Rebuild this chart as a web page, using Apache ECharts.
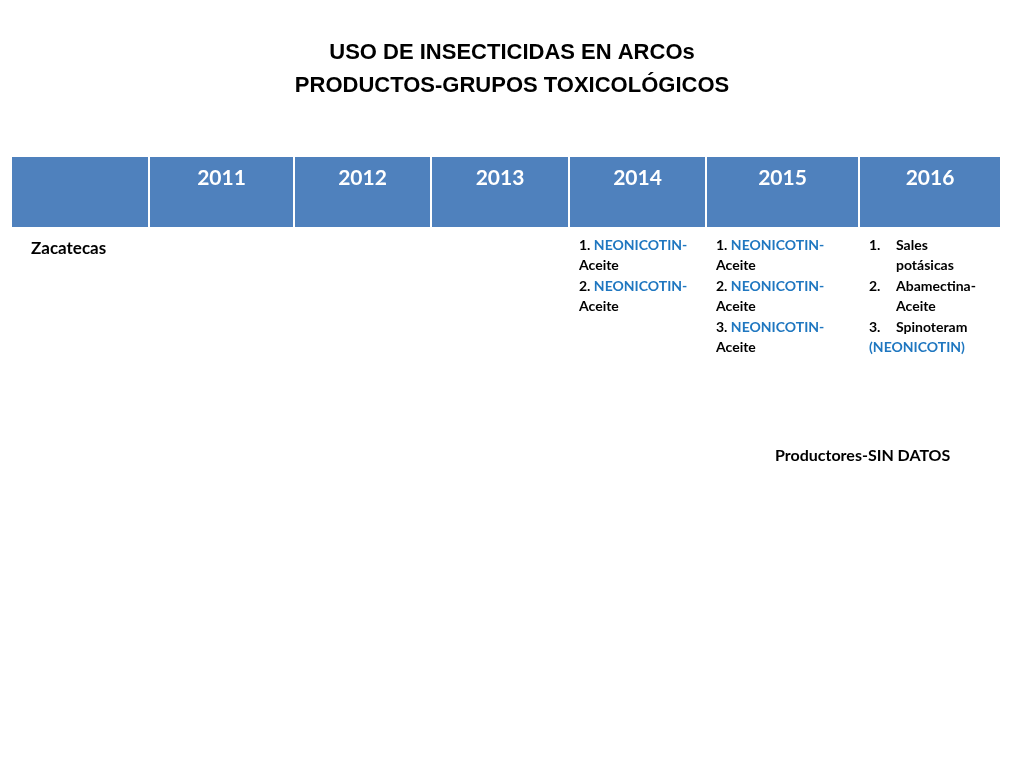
<!DOCTYPE html>
<html>
  <head>
    <meta charset="utf-8" />
    <script src="https://cdn.jsdelivr.net/npm/echarts@6/dist/echarts.min.js"></script>
  </head>
  <body style="margin:0">
    <div id="main" style="width: 1024px;height: 768px;"></div>
    <script type="text/javascript">
      var titleLines = ['USO DE INSECTICIDAS EN ARCOs', 'PRODUCTOS-GRUPOS TOXICOLÓGICOS'];
      var years = ['2011', '2012', '2013', '2014', '2015', '2016'];
      var rowLabel = 'Zacatecas';
      // each cell: list of lines, each line: list of [text, style]
      var cell2014 = [
        [['1. ', 'b'], ['NEONICOTIN-', 'n']],
        [['Aceite', 'b']],
        [['2. ', 'b'], ['NEONICOTIN-', 'n']],
        [['Aceite', 'b']]
      ];
      var cell2015 = [
        [['1. ', 'b'], ['NEONICOTIN-', 'n']],
        [['Aceite', 'b']],
        [['2. ', 'b'], ['NEONICOTIN-', 'n']],
        [['Aceite', 'b']],
        [['3. ', 'b'], ['NEONICOTIN-', 'n']],
        [['Aceite', 'b']]
      ];
      var cell2016 = [
        [['1.', 'b'], ['Sales', 'ind']],
        [['', 'b'], ['potásicas', 'ind']],
        [['2.', 'b'], ['Abamectina-', 'ind']],
        [['', 'b'], ['Aceite', 'ind']],
        [['3.', 'b'], ['Spinoteram', 'ind']],
        [['(NEONICOTIN)', 'n']]
      ];
      var cells = [[], [], [], cell2014, cell2015, cell2016];
      var note = 'Productores-SIN DATOS';

      var colX = [12, 150, 295, 432, 570, 707, 860, 1002];
      var font = 'Lato, "Open Sans", sans-serif';
      var blue = '#4F81BD';
      var g = [];

      titleLines.forEach(function (t, i) {
        g.push({ type: 'text', left: 'center', top: 42 + i * 33,
          style: { text: t, font: 'bold 22px "Liberation Sans", Arial', fill: '#000' } });
      });
      // header band
      for (var c = 0; c < colX.length - 1; c++) {
        g.push({ type: 'rect', shape: { x: colX[c], y: 157, width: colX[c + 1] - colX[c] - 2, height: 70 },
          style: { fill: blue } });
      }
      years.forEach(function (y, i) {
        var x0 = colX[i + 1], x1 = colX[i + 2];
        g.push({ type: 'text', x: (x0 + x1) / 2 - 1, y: 178,
          style: { text: y, font: 'bold 21px ' + font, fill: '#fff', align: 'center', verticalAlign: 'middle' } });
      });
      g.push({ type: 'text', x: 31, y: 249,
        style: { text: rowLabel, font: 'bold 17px ' + font, fill: '#000', verticalAlign: 'middle' } });

      var rich = {
        b: { font: 'bold 14px ' + font, fill: '#000' },
        n: { font: 'bold 14px ' + font, fill: '#1F77C0' },
        ind: { font: 'bold 14px ' + font, fill: '#000' }
      };
      cells.forEach(function (lines, i) {
        var x = colX[i + 1] + 9;
        lines.forEach(function (line, j) {
          var yy = 245 + j * 20.5;
          var hang = line.length > 1 && line[1][1] === 'ind';
          if (hang) {
            g.push({ type: 'text', x: x, y: yy, style: { text: line[0][0], font: 'bold 14px ' + font, fill: '#000', verticalAlign: 'middle' } });
            g.push({ type: 'text', x: x + 27, y: yy, style: { text: line[1][0], font: 'bold 14px ' + font, fill: '#000', verticalAlign: 'middle' } });
          } else {
            g.push({ type: 'text', x: x, y: yy, style: {
              text: line.map(function (s) { return '{' + s[1] + '|' + s[0] + '}'; }).join(''),
              rich: rich, verticalAlign: 'middle' } });
          }
        });
      });
      g.push({ type: 'text', x: 775, y: 456,
        style: { text: note, font: 'bold 16px ' + font, fill: '#000', verticalAlign: 'middle' } });

      var chart = echarts.init(document.getElementById('main'));
      chart.setOption({ backgroundColor: '#fff', graphic: g });
    </script>
  </body>
</html>
